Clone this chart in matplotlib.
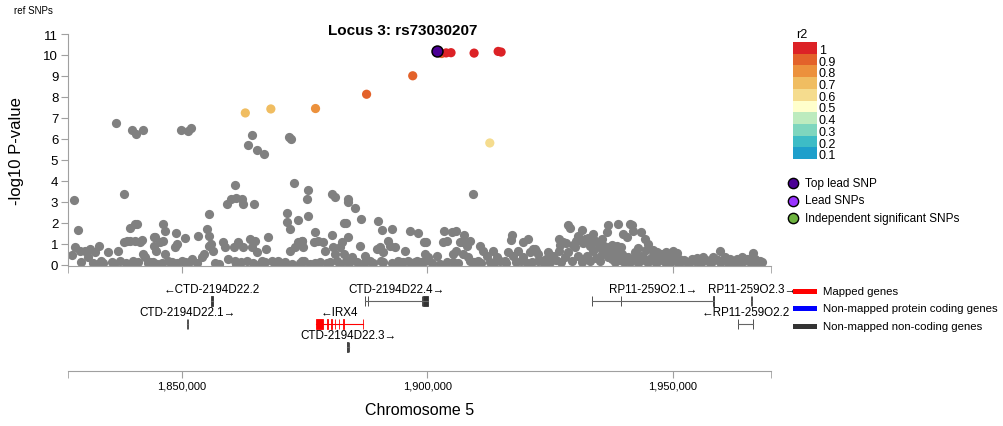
import numpy as np
import matplotlib
matplotlib.use('Agg')
import matplotlib.pyplot as plt
from matplotlib.patches import Rectangle
from matplotlib.ticker import FuncFormatter

plt.rcParams['font.family'] = ['Liberation Sans', 'DejaVu Sans']

# ---- SNPs (position in kb, -log10 P) ----
grey_pos = [
    1836.6, 1839.8, 1840.6, 1842.1, 1849.8, 1851.3, 1851.8, 1864.3, 1863.4, 1865.2,
    1866.8, 1871.8, 1872.3, 1872.9, 1828.0, 1838.1, 1860.8, 1859.1, 1860.0, 1860.9,
    1862.3, 1862.5, 1864.7, 1855.6, 1871.3, 1871.3, 1871.9, 1873.6, 1875.7, 1875.5,
    1875.7, 1828.9, 1839.4, 1840.4, 1840.8, 1846.1, 1846.5, 1848.7, 1850.6, 1853.2,
    1855.0, 1855.4, 1867.6, 1844.2,
    1827.5, 1828.2, 1829.2, 1830.2, 1830.9, 1831.3, 1832.3, 1833.0, 1833.6, 1834.9,
    1835.7, 1837.0, 1837.4, 1838.1, 1838.7, 1839.4, 1840.1, 1840.4, 1841.4, 1841.9,
    1842.1, 1842.5, 1843.5, 1844.2, 1844.5, 1844.8, 1845.5, 1846.2, 1846.5, 1847.2,
    1847.9, 1848.6, 1848.9, 1849.9, 1850.6, 1852.0, 1854.0, 1854.4, 1855.4, 1856.0,
    1856.4, 1858.4, 1858.8, 1859.4, 1860.5, 1860.8, 1861.5, 1862.5, 1863.2, 1863.9,
    1864.2, 1864.9, 1865.2, 1866.2, 1867.2, 1868.3, 1869.6, 1871.0, 1872.0, 1873.0,
    1873.7, 1874.4, 1874.9,
    1880.5, 1881.2, 1883.9, 1883.9, 1885.2, 1886.4, 1882.9, 1883.5, 1890.0, 1890.7,
    1892.7, 1877.0, 1880.5, 1883.9, 1896.4, 1898.1, 1909.3, 1903.4, 1904.9, 1905.8,
    1907.4, 1917.2, 1917.0, 1920.5, 1919.5,
    1874.4, 1874.7, 1874.4, 1876.8, 1877.8, 1878.8, 1879.1, 1878.1, 1880.8, 1881.2,
    1881.5, 1882.5, 1882.2, 1882.9, 1883.5, 1884.6, 1885.6, 1886.3, 1887.3, 1888.3,
    1889.7, 1890.3, 1891.0, 1892.0, 1892.4, 1893.4, 1894.1, 1895.4, 1896.1, 1897.5,
    1899.2, 1899.8, 1899.5, 1900.2, 1899.5, 1901.9, 1903.2, 1903.9, 1905.3, 1905.9,
    1906.6, 1907.3, 1908.0, 1908.7, 1907.3, 1908.3, 1908.7, 1910.7, 1911.4, 1912.1,
    1913.4, 1914.1, 1914.8, 1915.8, 1916.5, 1917.5, 1918.5, 1919.5, 1920.9, 1921.6,
    1922.2, 1922.6, 1905.3, 1891.0, 1887.3, 1894.4, 1882.2, 1897.8,
    1928.7, 1929.0, 1931.4, 1926.8, 1927.7, 1930.7, 1932.1, 1933.8, 1935.5, 1936.5,
    1936.8, 1934.5, 1938.9, 1941.3, 1941.6, 1939.9, 1941.9, 1943.6, 1944.3, 1945.0,
    1946.0, 1940.6, 1959.6, 1966.4, 1950.1,
    1921.9, 1922.6, 1923.3, 1924.6, 1925.6, 1926.7, 1928.0, 1928.7, 1930.1, 1930.7,
    1931.4, 1933.1, 1933.8, 1935.2, 1935.8, 1936.2, 1937.2, 1937.9, 1938.2, 1938.9,
    1939.6, 1940.2, 1941.3, 1942.3, 1943.0, 1944.0, 1945.0, 1946.0, 1947.0, 1948.1,
    1948.7, 1949.4, 1950.4, 1951.8, 1952.8, 1953.8, 1955.2, 1956.2, 1957.2, 1958.6,
    1959.6, 1960.6, 1962.0, 1963.0, 1964.0, 1965.4, 1966.7, 1967.7, 1968.1,
    1829.5, 1831.8, 1832.8, 1834.0, 1836.2, 1838.5, 1839.8, 1841.0, 1843.0, 1844.0,
    1845.0, 1846.0, 1848.2, 1849.0, 1851.0, 1851.5, 1853.0, 1856.8, 1857.5, 1861.0,
    1862.0, 1864.5, 1865.8, 1867.0, 1869.0, 1870.2, 1872.5, 1874.0, 1876.0, 1877.0,
    1879.5, 1880.2, 1884.0, 1886.0, 1888.9, 1890.6, 1892.8, 1893.8, 1895.0, 1896.8,
    1898.6, 1901.0, 1902.5, 1904.0, 1906.2, 1909.5, 1910.2, 1911.0, 1912.8, 1913.6,
    1916.0, 1918.0, 1919.0, 1920.2, 1921.2, 1923.8, 1924.2, 1925.0, 1926.2, 1927.3,
    1929.4, 1931.9, 1932.6, 1934.3, 1935.6, 1936.7, 1937.6, 1938.5, 1939.2, 1940.0,
    1940.8, 1941.8, 1942.8, 1943.4, 1944.5, 1945.5, 1946.5, 1947.5, 1948.4, 1949.0,
    1949.9, 1951.0, 1951.3, 1952.3, 1953.3, 1954.4, 1954.9, 1955.7, 1956.8, 1957.8,
    1958.2, 1959.1, 1960.0, 1961.2, 1961.6, 1962.5, 1963.5, 1964.5, 1965.0, 1965.9,
    1966.2, 1967.2,
    1935.0, 1935.9, 1936.9, 1937.5, 1938.0, 1938.7, 1939.4, 1927.0, 1928.3, 1929.6,
    1930.3, 1931.7, 1932.8, 1933.2, 1934.0, 1942.8, 1944.6, 1946.8, 1948.5, 1950.8,
    1947.6,
]
grey_logp = [
    6.76, 6.41, 6.22, 6.41, 6.41, 6.38, 6.54, 6.20, 5.70, 5.49,
    5.30, 6.10, 6.01, 3.90, 3.07, 3.39, 3.83, 2.91, 3.15, 3.20,
    3.15, 2.91, 2.91, 2.43, 2.47, 2.04, 1.72, 2.16, 3.58, 3.12,
    2.34, 1.67, 1.77, 1.96, 1.96, 1.96, 1.64, 1.53, 1.27, 1.40,
    1.72, 1.40, 1.35, 1.35,
    0.47, 0.84, 0.68, 0.68, 0.37, 0.76, 0.61, 0.92, 0.21, 0.61,
    0.13, 0.68, 0.21, 1.08, 1.16, 1.16, 0.21, 1.16, 1.08, 1.19,
    0.53, 0.37, 0.13, 0.92, 1.32, 0.68, 1.08, 1.16, 0.53, 0.21,
    0.13, 0.84, 1.00, 0.21, 0.13, 0.29, 0.37, 0.53, 0.92, 1.00,
    0.68, 1.08, 0.84, 0.29, 0.84, 0.21, 1.08, 0.84, 0.21, 1.24,
    0.84, 1.16, 0.61, 0.21, 0.76, 0.21, 0.21, 0.13, 0.68, 0.84,
    1.08, 1.16, 0.21,
    3.36, 3.23, 3.15, 2.99, 2.72, 2.20, 1.99, 2.02, 2.08, 1.67,
    1.72, 1.56, 1.45, 1.35, 1.61, 1.51, 3.39, 1.61, 1.56, 1.64,
    1.45, 1.45, 1.19, 1.24, 1.08,
    1.16, 0.84, 0.21, 1.08, 1.16, 1.08, 0.68, 0.13, 0.84, 0.53,
    0.21, 1.08, 0.84, 0.53, 0.21, 0.37, 0.13, 0.92, 0.45, 0.21,
    0.76, 0.84, 0.61, 1.16, 0.92, 0.84, 0.21, 0.68, 0.21, 0.13,
    1.08, 1.08, 0.53, 0.37, 0.21, 0.45, 1.08, 1.16, 0.53, 0.68,
    1.08, 1.08, 0.92, 1.16, 0.53, 0.37, 0.21, 0.92, 0.68, 0.45,
    0.68, 0.37, 0.21, 0.21, 0.61, 0.45, 0.68, 0.37, 0.61, 0.76,
    0.68, 0.21, 0.13, 0.13, 0.13, 0.13, 0.05, 0.21,
    1.88, 1.77, 1.67, 1.24, 1.08, 1.40, 1.24, 1.48, 1.24, 1.56,
    1.88, 1.08, 1.96, 1.96, 1.88, 1.48, 1.64, 1.56, 1.24, 1.00,
    0.72, 1.32, 0.68, 0.56, 0.68,
    0.76, 0.53, 0.21, 0.61, 0.45, 0.68, 0.37, 0.61, 0.84, 0.45,
    0.13, 0.21, 0.68, 0.21, 0.61, 0.76, 0.68, 0.53, 0.13, 0.76,
    0.53, 0.37, 0.13, 0.61, 0.21, 0.37, 0.13, 0.45, 0.21, 0.53,
    0.29, 0.13, 0.37, 0.21, 0.13, 0.29, 0.21, 0.37, 0.21, 0.29,
    0.13, 0.37, 0.21, 0.29, 0.37, 0.21, 0.29, 0.21, 0.13,
    0.15, 0.10, 0.06, 0.08, 0.05, 0.10, 0.06, 0.12, 0.07, 0.15,
    0.05, 0.09, 0.06, 0.10, 0.05, 0.12, 0.08, 0.10, 0.06, 0.05,
    0.12, 0.08, 0.06, 0.12, 0.05, 0.10, 0.06, 0.09, 0.06, 0.10,
    0.08, 0.15, 0.10, 0.05, 0.08, 0.20, 0.10, 0.06, 0.12, 0.08,
    0.12, 0.10, 0.05, 0.15, 0.08, 0.12, 0.20, 0.10, 0.15, 0.08,
    0.10, 0.12, 0.20, 0.08, 0.15, 0.10, 0.30, 0.12, 0.25, 0.15,
    0.20, 0.30, 0.45, 0.35, 0.50, 0.40, 0.30, 0.55, 0.25, 0.15,
    0.40, 0.30, 0.10, 0.45, 0.20, 0.35, 0.10, 0.30, 0.12, 0.40,
    0.20, 0.10, 0.30, 0.25, 0.10, 0.20, 0.35, 0.10, 0.25, 0.10,
    0.40, 0.25, 0.20, 0.10, 0.30, 0.15, 0.10, 0.20, 0.30, 0.10,
    0.40, 0.15,
    0.85, 0.90, 0.85, 0.95, 0.80, 0.90, 0.85, 0.95, 1.05, 0.95,
    1.15, 1.05, 1.30, 0.90, 1.20, 0.80, 0.70, 0.62, 0.60, 0.55,
    0.50,
]

# SNPs in LD with the lead SNP
ld_pos = [1862.9, 1868.1, 1877.2, 1887.6, 1897.0, 1902.9, 1903.8, 1904.8, 1909.5, 1914.4, 1915.0, 1912.7]
ld_logp = [7.24, 7.43, 7.45, 8.13, 9.01, 10.07, 10.10, 10.11, 10.09, 10.17, 10.14, 5.81]
ld_r2 = [0.7, 0.7, 0.8, 0.9, 0.9, 0.9, 1.0, 1.0, 1.0, 1.0, 1.0, 0.6]

top_pos = [1901.9]
top_logp = [10.18]

r2_levels = [1, 0.9, 0.8, 0.7, 0.6, 0.5, 0.4, 0.3, 0.2, 0.1]
r2_colors = ['#DC2226', '#E3622A', '#EC913C', '#F0BD61', '#F5DC8E',
             '#FFFFCC', '#BDEBBE', '#7ED6BE', '#3DBCC6', '#1E9FCB']

# ---- genes (kb) ----
gene_names = ['CTD-2194D22.2', 'CTD-2194D22.1', 'CTD-2194D22.4', 'IRX4',
              'CTD-2194D22.3', 'RP11-259O2.1', 'RP11-259O2.3', 'RP11-259O2.2']
gene_start = [1855.9, 1851.0, 1887.3, 1877.3, 1883.7, 1933.5, 1965.9, 1963.2]
gene_end = [1856.3, 1851.3, 1900.1, 1886.9, 1884.0, 1958.4, 1966.2, 1966.3]
gene_strand = [-1, 1, 1, -1, 1, 1, 1, -1]
gene_row = [0, 1, 0, 1, 2, 0, 0, 1]
gene_mapped = [False, False, False, True, False, False, False, False]
gene_exons = [
    [(1855.9, 1856.3)],
    [(1851.0, 1851.05), (1851.25, 1851.3)],
    [(1887.3, 1887.35), (1887.9, 1887.95), (1898.9, 1898.95), (1899.0, 1900.1)],
    [(1877.3, 1878.7), (1879.6, 1879.7), (1880.4, 1880.5), (1881.1, 1881.2),
     (1881.9, 1882.0), (1882.8, 1882.9), (1886.8, 1886.9)],
    [(1883.7, 1883.75), (1883.95, 1884.0)],
    [(1933.5, 1933.55), (1939.4, 1939.45), (1958.1, 1958.4)],
    [(1965.9, 1965.95), (1966.15, 1966.2)],
    [(1963.2, 1963.25), (1966.25, 1966.3)],
]

x_range = (1826.78, 1969.98)
x_ticks = [1850000, 1900000, 1950000]

W, H = 1004, 427
fig = plt.figure(figsize=(W / 100, H / 100), dpi=100)


def box(l, t, r, b):
    return [l / W, 1 - b / H, (r - l) / W, (b - t) / H]


axis_grey = '#A0A0A0'

# ---- scatter panel ----
ax = fig.add_axes(box(68, 35, 771, 267))
ax.scatter(np.array(grey_pos) * 1000, grey_logp, s=44, color='#808080', linewidths=0, zorder=2)
ld_cols = [r2_colors[r2_levels.index(r)] for r in ld_r2]
ax.scatter(np.array(ld_pos) * 1000, ld_logp, s=44, c=ld_cols, linewidths=0, zorder=3)
ax.scatter(np.array(top_pos) * 1000, top_logp, s=62, color='#4B0095', edgecolors='black',
           linewidths=1.1, zorder=4)
ax.set_xlim(x_range[0] * 1000, x_range[1] * 1000)
ax.set_ylim(-0.05, 11)
ax.set_yticks(range(0, 12))
ax.set_xticks(x_ticks)
ax.set_xticks([x_range[0] * 1000, x_range[1] * 1000], minor=True)
ax.tick_params(axis='x', which='both', length=5, color=axis_grey, labelbottom=False)
ax.tick_params(axis='y', length=5, color=axis_grey, labelsize=9.5, pad=2)
for s in ['top', 'right']:
    ax.spines[s].set_visible(False)
for s in ['left', 'bottom']:
    ax.spines[s].set_color(axis_grey)
ax.patch.set_alpha(0)

# ---- gene panel ----
gx = fig.add_axes(box(68, 272, 771, 372))
gx.set_xlim(x_range[0] * 1000, x_range[1] * 1000)
gx.set_ylim(4.35, 0)
for name, s, e, strand, row, mapped, exons in zip(gene_names, gene_start, gene_end,
                                                   gene_strand, gene_row, gene_mapped, gene_exons):
    line_col = 'red' if mapped else '#666666'
    ex_col = 'red' if mapped else '#333333'
    y = row + 1.3
    gx.plot([s * 1000, e * 1000], [y, y], color=line_col, lw=0.8)
    for a, b in exons:
        gx.add_patch(Rectangle((a * 1000, y - 0.21), (b - a) * 1000, 0.42,
                               fc=ex_col, ec=ex_col, lw=0.6))
    label = '\u2190' + name if strand < 0 else name + '\u2192'
    gx.text((s + e) / 2 * 1000, row + 0.8, label, ha='center', va='center',
            fontsize=8.4, clip_on=False)
gx.set_yticks([])
gx.set_xticks(x_ticks)
gx.set_xticks([x_range[0] * 1000, x_range[1] * 1000], minor=True)
gx.xaxis.set_major_formatter(FuncFormatter(lambda v, p: '{:,}'.format(int(v))))
gx.tick_params(axis='x', which='both', length=5, color=axis_grey, labelsize=8, pad=2)
for s in ['top', 'right', 'left']:
    gx.spines[s].set_visible(False)
gx.spines['bottom'].set_color(axis_grey)
gx.patch.set_alpha(0)

# ---- texts ----
fig.text(403 / W, 1 - 31 / H, 'Locus 3: rs73030207', ha='center', va='center',
         fontsize=11, fontweight='bold')
fig.text(14 / W, 1 - 11 / H, 'ref SNPs', ha='left', va='center', fontsize=7)
fig.text(17 / W, 1 - 151 / H, '-log10 P-value', rotation=90, ha='center', va='center', fontsize=12)
fig.text(420 / W, 1 - 411 / H, 'Chromosome 5', ha='center', va='center', fontsize=11.5)

# ---- legends ----
lg = fig.add_axes([0, 0, 1, 1])
lg.set_xlim(0, W)
lg.set_ylim(H, 0)
lg.axis('off')
lg.text(802, 35, 'r2', ha='center', va='center', fontsize=9)
step = 11.7
for i, (lev, col) in enumerate(zip(r2_levels, r2_colors)):
    lg.add_patch(Rectangle((793, 43 + i * step), 24, step, fc=col, ec='none'))
    lg.text(819, 43 + i * step + 8, str(lev), ha='left', va='center', fontsize=9)

snp_legend = ['Top lead SNP', 'Lead SNPs', 'Independent significant SNPs']
snp_legend_cols = ['#4B0095', '#9933FF', '#6DB33F']
for i, (lab, col) in enumerate(zip(snp_legend, snp_legend_cols)):
    yy = 184 + i * 17.5
    lg.scatter([793], [yy], s=55, color=col, edgecolors='black', linewidths=1)
    lg.text(805, yy, lab, ha='left', va='center', fontsize=8.5)

gene_legend = ['Mapped genes', 'Non-mapped protein coding genes', 'Non-mapped non-coding genes']
gene_legend_cols = ['#FF0000', '#0000FF', '#333333']
for i, (lab, col) in enumerate(zip(gene_legend, gene_legend_cols)):
    yy = 292 + i * 17.5
    lg.add_patch(Rectangle((793, yy - 2.5), 24, 5, fc=col, ec='none'))
    lg.text(823, yy, lab, ha='left', va='center', fontsize=8.2)

fig.savefig('out.png', dpi=100)
